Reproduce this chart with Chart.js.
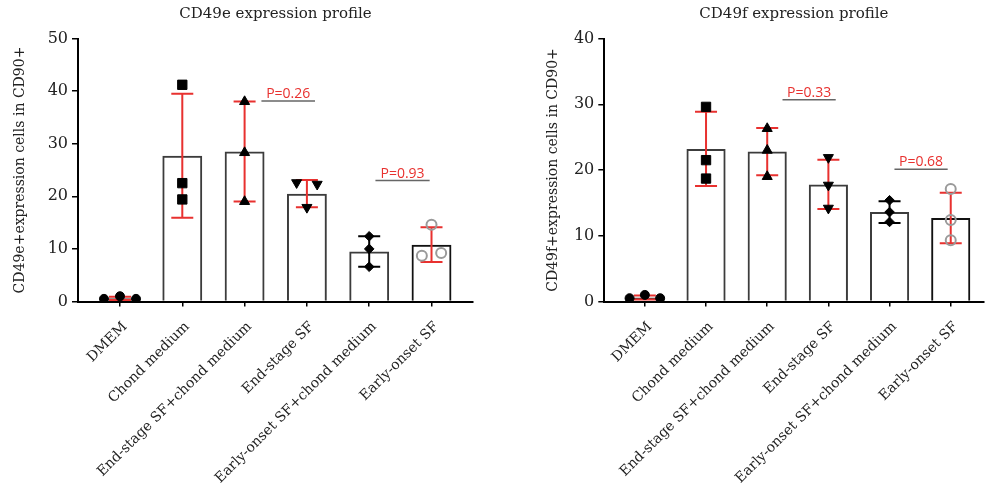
<!DOCTYPE html>
<html>
<head>
<meta charset="utf-8">
<script src="https://cdn.jsdelivr.net/npm/chart.js@4.4.0/dist/chart.umd.min.js"></script>
<style>
  html, body { margin: 0; padding: 0; background: #fff; }
  #wrap { position: relative; width: 991px; height: 485px; overflow: hidden; }
  #c1 { position: absolute; left: 0; top: 0; width: 495px; height: 485px; }
  #c2 { position: absolute; left: 495px; top: 0; width: 496px; height: 485px; }
</style>
</head>
<body>
<div id="wrap">
  <canvas id="c1" width="495" height="485"></canvas>
  <canvas id="c2" width="496" height="485"></canvas>
</div>
<script>
"use strict";

var groups = ["DMEM", "Chond medium", "End-stage SF+chond medium", "End-stage SF", "Early-onset SF+chond medium", "Early-onset SF"];

// CD49e panel
var cd49eMean = [0.6, 27.7, 28.5, 20.5, 9.5, 10.8];
var cd49eSd = [0.3, 11.8, 9.5, 2.6, 2.9, 3.3];
var cd49ePoints = [
    [0.5, 1.0, 0.5],
    [41.2, 22.5, 19.4],
    [38.0, 28.3, 19.0],
    [22.6, 17.9, 22.3],
    [12.4, 10.0, 6.6],
    [8.7, 14.6, 9.2]
];
var cd49eTicks = [0, 10, 20, 30, 40, 50];
var cd49eP = ["P=0.26", "P=0.93"];

// CD49f panel
var cd49fMean = [0.6, 23.2, 22.8, 17.8, 13.6, 12.7];
var cd49fSd = [0.3, 5.65, 3.6, 3.75, 1.65, 3.85];
var cd49fPoints = [
    [0.5, 1.0, 0.5],
    [29.6, 21.5, 18.7],
    [26.3, 23.0, 19.0],
    [21.9, 17.7, 14.2],
    [15.4, 13.6, 12.1],
    [17.1, 12.4, 9.3]
];
var cd49fTicks = [0, 10, 20, 30, 40];
var cd49fP = ["P=0.33", "P=0.68"];

var RED = "#e8312f";
var serif = "'DejaVu Serif', serif";

// marker look per group
var markers = [
    { style: "circle", r: 4.5, rot: 0, fill: "#000", line: "#000" },
    { style: "rect", r: 6.6, rot: 0, fill: "#000", line: "#000" },
    { style: "triangle", r: 5.8, rot: 0, fill: "#000", line: "#000" },
    { style: "triangle", r: 5.8, rot: 180, fill: "#000", line: "#000" },
    { style: "rectRot", r: 4.8, rot: 0, fill: "#000", line: "#000" },
    { style: "circle", r: 5, rot: 0, fill: "rgba(255,255,255,0)", line: "#9a9a9a" }
];
var errColors = [RED, RED, RED, RED, "#000", RED];
var barColors = ["#3c3c3c", "#3c3c3c", "#3c3c3c", "#3c3c3c", "#3c3c3c", "#111"];

var decor = {
    id: "decor",
    afterDatasetDraw: function (chart, args, opts) {
        if (args.meta.type !== "bar") return;
        var x = chart.scales.x, y = chart.scales.y, ctx = chart.ctx;
        ctx.save();
        ctx.lineWidth = 2;
        opts.mean.forEach(function (m, i) {
            var px = x.getPixelForValue(i);
            var top = y.getPixelForValue(m + opts.sd[i]);
            var bot = y.getPixelForValue(Math.max(m - opts.sd[i], 0));
            ctx.strokeStyle = errColors[i];
            ctx.beginPath();
            ctx.moveTo(px, top); ctx.lineTo(px, bot);
            ctx.moveTo(px - 11, top); ctx.lineTo(px + 11, top);
            ctx.moveTo(px - 11, bot); ctx.lineTo(px + 11, bot);
            ctx.stroke();
        });
        ctx.restore();
    },
    afterDraw: function (chart, args, opts) {
        var x = chart.scales.x, y = chart.scales.y, ctx = chart.ctx;
        ctx.save();
        opts.brackets.forEach(function (b, i) {
            var x1 = x.getPixelForValue(b.from), x2 = x.getPixelForValue(b.to);
            var py = y.getPixelForValue(b.y);
            ctx.strokeStyle = "#666";
            ctx.lineWidth = 1.5;
            ctx.beginPath();
            ctx.moveTo(x1, py); ctx.lineTo(x2, py);
            ctx.stroke();
            ctx.fillStyle = RED;
            ctx.font = "14px 'Open Sans', sans-serif";
            ctx.textAlign = "center";
            ctx.textBaseline = "alphabetic";
            ctx.fillText(opts.labels[i], (x1 + x2) / 2, py - 3);
        });
        ctx.restore();
    }
};
Chart.register(decor);

function makeChart(id, title, yTitle, mean, sd, points, yTicks, pLabels, brackets, jitter, geo) {
    var datasets = [{
        type: "bar",
        data: mean.map(function (v, i) { return { x: i, y: v }; }),
        backgroundColor: "rgba(255,255,255,0)",
        borderColor: barColors,
        borderWidth: 2,
        categoryPercentage: 1,
        barPercentage: 0.64,
        order: 1
    }];
    points.forEach(function (vals, g) {
        var mk = markers[g];
        datasets.push({
            type: "scatter",
            data: vals.map(function (v, k) { return { x: g + (k - 1) * jitter[g], y: v }; }),
            pointStyle: mk.style,
            rotation: mk.rot,
            pointRadius: mk.r,
            pointBackgroundColor: mk.fill,
            pointBorderColor: mk.line,
            pointBorderWidth: g === 5 ? 2 : 1,
            order: 0
        });
    });

    return new Chart(document.getElementById(id), {
        type: "bar",
        data: { datasets: datasets },
        options: {
            responsive: false,
            animation: false,
            devicePixelRatio: 1,
            layout: { padding: { left: 0, right: geo.padRight, top: 0, bottom: 0 } },
            plugins: {
                legend: { display: false },
                tooltip: { enabled: false },
                title: {
                    display: true,
                    text: title,
                    fullSize: false,
                    color: "#222",
                    font: { family: serif, size: 15, weight: "normal" },
                    padding: { top: 5.5, bottom: 15 }
                },
                decor: { mean: mean, sd: sd, labels: pLabels, brackets: brackets }
            },
            scales: {
                x: {
                    type: "linear",
                    min: geo.xMin,
                    max: geo.xMax,
                    offset: false,
                    afterBuildTicks: function (s) {
                        s.ticks = groups.map(function (g, i) { return { value: i }; });
                    },
                    afterFit: function (s) { s.height = 485 - 301.5; },
                    ticks: {
                        autoSkip: false,
                        minRotation: 45,
                        maxRotation: 45,
                        padding: 12,
                        labelOffset: 5,
                        color: "#222",
                        font: { family: serif, size: 14 },
                        callback: function (v) { return groups[v]; }
                    },
                    grid: { drawOnChartArea: false, offset: false, tickLength: 5, color: "#000", lineWidth: 1.5 },
                    border: { color: "#000", width: 2 }
                },
                y: {
                    min: 0,
                    max: yTicks[yTicks.length - 1],
                    afterBuildTicks: function (s) {
                        s.ticks = yTicks.map(function (v) { return { value: v }; });
                    },
                    afterFit: function (s) { s.width = geo.yWidth; },
                    ticks: { padding: 4, color: "#222", font: { family: serif, size: 16 } },
                    grid: { drawOnChartArea: false, tickLength: 6, color: "#000", lineWidth: 1.5 },
                    border: { color: "#000", width: 2 },
                    title: {
                        display: true,
                        text: yTitle,
                        color: "#222",
                        font: { family: serif, size: 14 },
                        padding: { top: geo.yTitlePad, bottom: 0 }
                    }
                }
            }
        }
    });
}

makeChart("c1", "CD49e expression profile", "CD49e+expression cells in CD90+",
    cd49eMean, cd49eSd, cd49ePoints, cd49eTicks, cd49eP,
    [{ from: 2.27, to: 3.13, y: 38.1 }, { from: 4.1, to: 4.97, y: 23.0 }],
    [0.257, 0, 0, 0.165, 0, 0.155],
    { padRight: 22, xMin: -0.674, xMax: 5.666, yWidth: 78, yTitlePad: 11.6 });

makeChart("c2", "CD49f expression profile", "CD49f+expression cells in CD90+",
    cd49fMean, cd49fSd, cd49fPoints, cd49fTicks, cd49fP,
    [{ from: 2.25, to: 3.12, y: 30.7 }, { from: 4.08, to: 4.95, y: 20.1 }],
    [0.25, 0, 0, 0, 0, 0],
    { padRight: 0, xMin: -0.663, xMax: 5.534, yWidth: 109.3, yTitlePad: 49.9 });
</script>
</body>
</html>
